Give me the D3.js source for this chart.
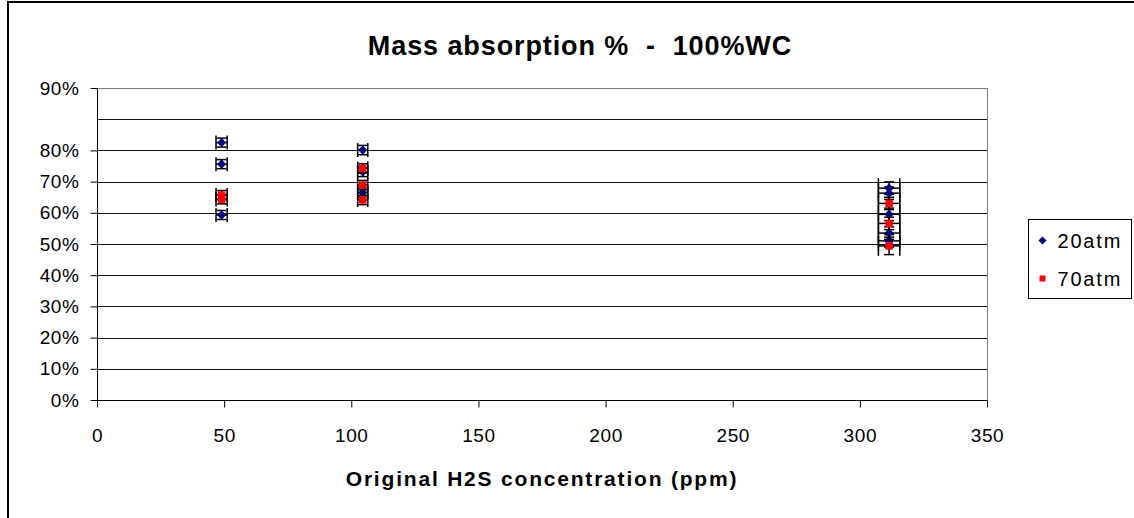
<!DOCTYPE html>
<html lang="en">
<head>
<meta charset="UTF-8">
<title>Mass absorption % - 100%WC</title>
<script src="https://d3js.org/d3.v7.min.js"></script>
<style>
    body { margin: 0; background: #fff; }
    svg text { font-family: 'Liberation Sans', Arial, sans-serif; fill: #000; white-space: pre; }
</style>
</head>
<body>
<div id="chart"></div>
<script>
    // series: x = ppm, y = fraction absorbed, ex/ey = error bar half-widths
    const atm20 = [
        { x: 49, y: 0.825, ex: 2.2, ey: 0.0145 },
        { x: 49, y: 0.756, ex: 2.2, ey: 0.0145 },
        { x: 49, y: 0.593, ex: 2.2, ey: 0.0145 },
        { x: 104.5, y: 0.801, ex: 2, ey: 0.015 },
        { x: 104.5, y: 0.731, ex: 2, ey: 0.015 },
        { x: 104.5, y: 0.665, ex: 2, ey: 0.015 },
        { x: 311.5, y: 0.679, ex: 4.2, ey: 0.02 },
        { x: 311.5, y: 0.663, ex: 4.2, ey: 0.02 },
        { x: 311.5, y: 0.595, ex: 4.2, ey: 0.02 },
        { x: 311.5, y: 0.535, ex: 4.2, ey: 0.02 },
        { x: 311.5, y: 0.510, ex: 4.2, ey: 0.02 }
    ];
    const atm70 = [
        { x: 49, y: 0.657, ex: 2.2, ey: 0.0145 },
        { x: 49, y: 0.643, ex: 2.2, ey: 0.0145 },
        { x: 104.5, y: 0.742, ex: 2, ey: 0.015 },
        { x: 104.5, y: 0.689, ex: 2, ey: 0.015 },
        { x: 104.5, y: 0.641, ex: 2, ey: 0.015 },
        { x: 311.5, y: 0.630, ex: 4.2, ey: 0.02 },
        { x: 311.5, y: 0.566, ex: 4.2, ey: 0.02 },
        { x: 311.5, y: 0.494, ex: 4.2, ey: 0.028 }
    ];
    const xTicks = [0, 50, 100, 150, 200, 250, 300, 350];
    const yGrid = [0.1, 0.2, 0.3, 0.4, 0.5, 0.6, 0.7, 0.8, 0.9];
    // the reference prints its top label "90%" on the top edge of the plot
    const yTicks = [0, 0.1, 0.2, 0.3, 0.4, 0.5, 0.6, 0.7, 0.8, 1.0];
    const yTickLabels = ['0%', '10%', '20%', '30%', '40%', '50%', '60%', '70%', '80%', '90%'];
    const seriesNames = ['20atm', '70atm'];
    const seriesColors = ['#000080', '#ff0000'];

    const width = 1134, height = 518;
    const plot = { left: 97, right: 987, top: 88, bottom: 400 };

    const svg = d3.select('#chart').append('svg')
        .attr('width', width)
        .attr('height', height);

    // outer chart frame (runs off the right and bottom edges)
    svg.append('rect')
        .attr('x', 8).attr('y', 2)
        .attr('width', width + 10).attr('height', height + 10)
        .attr('fill', '#fff')
        .attr('stroke', '#000').attr('stroke-width', 2);

    const x = d3.scaleLinear().domain([0, 350]).range([plot.left, plot.right]);
    const y = d3.scaleLinear().domain([0, 1]).range([plot.bottom, plot.top]);

    // plot area border
    svg.append('rect')
        .attr('x', plot.left + 0.5).attr('y', plot.top + 0.5)
        .attr('width', plot.right - plot.left).attr('height', plot.bottom - plot.top)
        .attr('fill', 'none').attr('stroke', '#808080');

    // gridlines
    svg.append('g').selectAll('line')
        .data(yGrid)
        .join('line')
        .attr('x1', plot.left).attr('x2', plot.right)
        .attr('y1', d => Math.round(y(d)) + 0.5).attr('y2', d => Math.round(y(d)) + 0.5)
        .attr('stroke', '#111').attr('stroke-width', 1);

    // axes
    const yAxis = svg.append('g')
        .attr('transform', `translate(${plot.left + 0.5},0)`)
        .call(d3.axisLeft(y).tickValues(yTicks)
            .tickFormat((d, i) => yTickLabels[i]).tickSize(7).tickPadding(11));
    const xAxis = svg.append('g')
        .attr('transform', `translate(0,${plot.bottom + 0.5})`)
        .call(d3.axisBottom(x).tickValues(xTicks).tickSize(7).tickPadding(21));
    [yAxis, xAxis].forEach(a => {
        a.select('.domain').attr('stroke', '#000').attr('d', a === yAxis
            ? `M0,${plot.top}V${plot.bottom}` : `M${plot.left},0H${plot.right}`);
        a.selectAll('line').attr('stroke', '#000');
        a.selectAll('text')
            .style('font-size', '19px')
            .style('letter-spacing', '0.6px')
            .style('font-family', "'Liberation Sans', Arial, sans-serif");
    });

    // error bars + markers
    const capY = 5;
    const capX = d => d.ex >= 4 ? 10 : 7;
    function drawSeries(data) {
        const g = svg.append('g');
        const eb = g.selectAll('g.eb').data(data).join('g').attr('class', 'eb')
            .attr('stroke', '#000').attr('stroke-width', 1.5);
        eb.append('line')
            .attr('x1', d => x(d.x - d.ex)).attr('x2', d => x(d.x + d.ex))
            .attr('y1', d => y(d.y)).attr('y2', d => y(d.y));
        eb.append('line')
            .attr('x1', d => x(d.x - d.ex)).attr('x2', d => x(d.x - d.ex))
            .attr('y1', d => y(d.y) - capX(d)).attr('y2', d => y(d.y) + capX(d));
        eb.append('line')
            .attr('x1', d => x(d.x + d.ex)).attr('x2', d => x(d.x + d.ex))
            .attr('y1', d => y(d.y) - capX(d)).attr('y2', d => y(d.y) + capX(d));
        eb.append('line')
            .attr('x1', d => x(d.x)).attr('x2', d => x(d.x))
            .attr('y1', d => y(d.y - d.ey)).attr('y2', d => y(d.y + d.ey));
        eb.append('line')
            .attr('x1', d => x(d.x) - capY).attr('x2', d => x(d.x) + capY)
            .attr('y1', d => y(d.y - d.ey)).attr('y2', d => y(d.y - d.ey));
        eb.append('line')
            .attr('x1', d => x(d.x) - capY).attr('x2', d => x(d.x) + capY)
            .attr('y1', d => y(d.y + d.ey)).attr('y2', d => y(d.y + d.ey));
        return g;
    }
    const g20 = drawSeries(atm20);
    const g70 = drawSeries(atm70);

    const diamond = d3.symbol().type(d3.symbolDiamond2).size(55);
    const square = d3.symbol().type(d3.symbolSquare).size(56);
    g20.selectAll('path.m').data(atm20).join('path').attr('class', 'm')
        .attr('d', diamond)
        .attr('transform', d => `translate(${x(d.x)},${y(d.y)})`)
        .attr('fill', seriesColors[0]);
    g70.selectAll('path.m').data(atm70).join('path').attr('class', 'm')
        .attr('d', square)
        .attr('transform', d => `translate(${x(d.x)},${y(d.y)})`)
        .attr('fill', seriesColors[1]);

    // title
    svg.append('text')
        .attr('x', 580).attr('y', 55)
        .attr('text-anchor', 'middle')
        .style('font-size', '27px').style('font-weight', 'bold')
        .style('letter-spacing', '0.9px')
        .text('Mass absorption %  -  100%WC');

    // x axis title
    svg.append('text')
        .attr('x', 542).attr('y', 486)
        .attr('text-anchor', 'middle')
        .style('font-size', '21px').style('font-weight', 'bold')
        .style('letter-spacing', '1.8px')
        .text('Original H2S concentration (ppm)');

    // legend
    const legend = svg.append('g').attr('transform', 'translate(1028.5,219.5)');
    legend.append('rect')
        .attr('width', 103).attr('height', 79)
        .attr('fill', '#fff').attr('stroke', '#000');
    const li = legend.selectAll('g.li').data(seriesNames).join('g')
        .attr('transform', (d, i) => `translate(0,${21 + i * 38})`);
    li.append('path')
        .attr('transform', 'translate(14,0)')
        .attr('d', (d, i) => i === 0 ? d3.symbol().type(d3.symbolDiamond2).size(40)() : d3.symbol().type(d3.symbolSquare).size(36)())
        .attr('fill', (d, i) => seriesColors[i]);
    li.append('text')
        .attr('x', 29).attr('dy', '0.35em')
        .style('font-size', '20px')
        .style('letter-spacing', '1.8px')
        .text(d => d);
</script>
</body>
</html>
